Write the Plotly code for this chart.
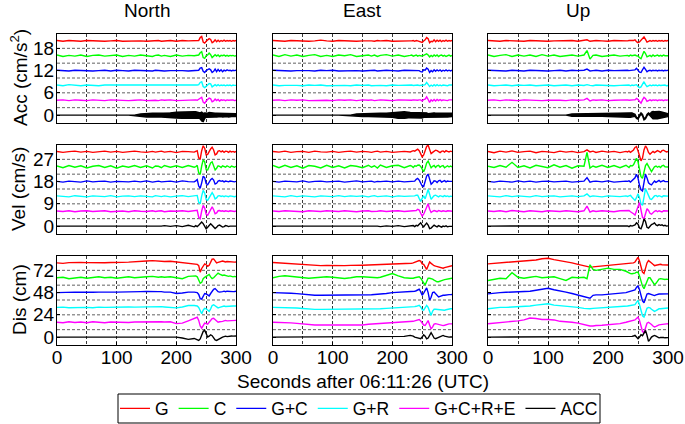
import plotly.graph_objects as go

# ---------------- time base (seconds after 06:11:26 UTC) ----------------
T = [0, 10, 20, 30, 40, 50, 60, 70, 80, 90, 100, 110, 120, 130, 140, 150, 160, 165, 170, 175,
     180, 190, 200, 210, 220, 230,
     232.5, 235, 237.5, 240, 242.5, 245, 247.5, 250, 252.5, 255, 257.5, 260, 262.5, 265,
     267.5, 270, 272.5, 275, 277.5, 280, 282.5, 285, 287.5, 290, 292.5, 295, 297.5, 300]

SERIES = ["G", "C", "G+C", "G+R", "G+C+R+E", "ACC"]
COMPONENTS = ["North", "East", "Up"]
QUANTITIES = ["Acc (cm/s<sup>2</sup>)", "Vel (cm/s)", "Dis (cm)"]
Y_TICKS = [[0, 6, 12, 18], [0, 9, 18, 27], [0, 24, 48, 72]]
X_TICKS = [0, 100, 200, 300]

# ---------------- acceleration (cm/s^2) ----------------
N_ACC_G = [0.1,-0.1,0.1,0,-0.1,0.1,0,0.1,-0.1,0,0.1,-0.1,0, 0.1,0,-0.1,0.1,0,0.1,-0.1,0,0.1,-0.1,0.1,0,0.1,
           0,0.2,0.1,0.9,1.2,-0.3,-0.6,-0.1,0.2,0.6,0.4,-0.5,-0.2,0.3, -0.2,0.2,-0.2,0.1,-0.1,0.2,-0.1,0.1,0,0.1,-0.1,0.1,0,0.1]
N_ACC_C = [0.2,-0.2,0.1,-0.1,0.2,-0.2,0.1,0.2,-0.1,0,0.2,-0.2,0.1, -0.1,0.2,0,-0.2,0.1,0.2,-0.1,0.1,-0.2,0.2,-0.1,0.1,0,
           0.1,0,0.2,0.8,1.1,-0.5,-0.7,0,0.2,0.7,0.3,-0.5,-0.1,0.3, -0.1,0.2,-0.2,0.1,0,0.2,-0.1,0.1,-0.1,0.1,0,0.1,-0.1,0]
N_ACC_GC = [0.1,0,-0.1,0.1,0,0.1,-0.1,0,0.1,-0.1,0.1,0,-0.1, 0.1,0,0.1,-0.1,0.1,0,0.1,-0.1,0,0.1,0,-0.1,0.1,
            0,0.2,0.1,0.7,0.8,-0.2,-0.5,0,0.3,0.5,0.2,-0.5,-0.2,0.4, -0.3,0.3,-0.2,0.2,-0.3,0.1,-0.1,0.2,0,0.1,-0.1,0.1,0,0.1]
N_ACC_GR = [0.1,-0.1,0.2,0,-0.1,0.1,0,-0.1,0.1,0.1,-0.1,0,0.1, -0.1,0.1,0,0.1,-0.1,0.1,0,-0.1,0.1,0,0.1,-0.1,0,
            0.1,0.1,0.2,0.8,1.0,-0.3,-0.6,-0.1,0.1,0.5,0.4,-0.4,-0.2,0.2, -0.1,0.2,-0.1,0.1,0,0.1,-0.1,0.1,0,0.1,-0.1,0.1,0,0]
N_ACC_GCRE = [0,0.1,-0.1,0.1,0,-0.1,0.1,0,-0.1,0.1,0,0.1,-0.1, 0,0.1,-0.1,0.1,0,-0.1,0.1,0,0.1,-0.1,0,0.1,0,
              0.1,0,0.2,0.6,0.8,-0.5,-0.8,-0.2,0.1,0.6,0.4,-0.4,-0.2,0.3, -0.1,0.2,-0.2,0.1,0,0.1,-0.1,0.1,0,0.1,0,0.1,-0.1,0]
# ACC acceleration: dense oscillation, given as upper / lower envelope
N_ACC_ACC_HI = [0,0,0,0,0,0,0,0,0,0,0,0,0, 0,0.3,0.5,0.5,0.5,0.5,0.5,0.6,0.6,0.8,0.9,1.0,0.9,
                0.9,0.8,0.7,0.6,0.8,0.4,0.6,0.5,0.5,0.7,0.6,0.5,0.5,0.5, 0.5,0.5,0.4,0.5,0.5,0.5,0.4,0.5,0.5,0.4,0.5,0.4,0.4,0.4]
N_ACC_ACC_LO = [0,0,0,0,0,0,0,0,0,0,0,0,0, 0,-0.3,-0.5,-0.5,-0.6,-0.5,-0.5,-0.6,-0.6,-0.8,-0.9,-1.1,-0.9,
                -1.0,-0.9,-0.9,-1.0,-1.6,-1.8,-0.9,-0.6,-0.5,-0.5,-0.6,-0.6,-0.5,-0.5, -0.5,-0.5,-0.5,-0.4,-0.5,-0.5,-0.5,-0.4,-0.5,-0.5,-0.4,-0.4,-0.5,-0.4]

E_ACC_G = [0.1,0,-0.1,0.1,0,0.1,-0.1,0,0.2,0,-0.1,0.1,0, 0.1,-0.1,0,0.1,0,-0.1,0.1,0,0.1,-0.1,0,0.1,0,
           0,0.1,-0.1,0.1,0,-0.1,-0.3,-0.4,0,0.3,0.9,0.6,-0.5,-0.1, -0.2,0.3,-0.2,0.2,-0.1,0.2,-0.2,0.1,-0.1,0.2,-0.1,0.1,0,0.1]
E_ACC_C = [0.2,-0.2,0.3,-0.1,0.2,-0.2,0.1,0.3,-0.2,0.1,-0.2,0.2,0, 0.3,-0.2,0.1,0.2,-0.1,0.2,-0.2,0.1,0.3,-0.1,0.2,-0.2,0.1,
           0.2,-0.1,0.1,0.2,-0.1,0.1,0,-0.1,0.1,0.2,0.5,0.2,-0.3,0.1, -0.2,0.2,-0.1,0.2,-0.2,0.1,0.2,-0.1,0.1,-0.2,0.1,0.2,-0.1,0.1]
E_ACC_GC = [0.1,0,0.1,-0.1,0,0.1,0,-0.1,0.1,0,0.1,-0.1,0, 0.1,0,-0.1,0.1,0,0.1,-0.1,0,0.1,0,-0.1,0.1,0,
            0,0.1,0,0.1,-0.1,0,-0.3,-0.4,0.2,0.1,0.7,0.4,-0.5,0, -0.3,0.2,-0.2,0.2,-0.1,0.2,-0.2,0.1,-0.1,0.2,-0.1,0.1,-0.1,0.1]
E_ACC_GR = [0.1,-0.1,0,0.1,0,-0.1,0.1,0,0.1,-0.1,0,0.1,0, -0.1,0.1,0,0.1,-0.1,0,0.1,0,-0.1,0.1,0,0.1,0,
            0.1,0,0.1,0,0.1,0,0,-0.1,0.1,0.2,0.8,0.3,-0.3,0.1, -0.2,0.2,-0.1,0.2,-0.1,0.1,-0.1,0.1,0,0.1,-0.1,0.1,0,0.1]
E_ACC_GCRE = [0,0.1,-0.1,0.1,0,0.1,-0.1,0,0.1,0,-0.1,0.1,0, 0.1,-0.1,0.1,0,0.1,-0.1,0,0.1,0,-0.1,0.1,0,0.1,
              0,0.1,0,0.1,0,0.1,0.1,-0.2,0.2,0.3,0.9,0.2,-0.6,0.1, -0.2,0.2,-0.2,0.2,-0.1,0.2,-0.1,0.1,0,0.1,-0.1,0.1,0,0.1]
E_ACC_ACC_HI = [0,0,0,0,0,0,0,0,0,0,0,0,0, 0,0.3,0.4,0.4,0.45,0.45,0.5,0.5,0.5,0.6,0.9,0.9,0.7,
                0.7,0.6,0.6,0.6,0.6,0.6,0.5,0.5,0.6,0.7,0.6,0.4,0.5,0.6, 0.5,0.6,0.5,0.5,0.6,0.5,0.5,0.5,0.5,0.5,0.5,0.5,0.4,0.5]
E_ACC_ACC_LO = [0,0,0,0,0,0,0,0,0,0,0,0,0, 0,-0.3,-0.4,-0.4,-0.45,-0.45,-0.5,-0.5,-0.5,-0.6,-0.9,-0.9,-0.7,
                -0.7,-0.6,-0.6,-0.6,-0.6,-0.6,-0.8,-0.8,-0.6,-0.5,-0.6,-0.7,-0.6,-0.5, -0.5,-0.6,-0.5,-0.5,-0.6,-0.5,-0.5,-0.5,-0.5,-0.5,-0.5,-0.4,-0.5,-0.4]

U_ACC_G = [0.1,0,-0.1,0.1,0,0.1,-0.1,0.1,0,0.1,-0.1,0,0.1, 0,0.1,-0.1,0.1,0.3,-0.1,0,0.1,0,-0.1,0.1,0,0.1,
           0,0.1,0,0.1,0.1,0.3,-0.2,-0.5,-0.3,0.2,0.8,1.1,0.4,-0.3, -0.1,0.1,-0.1,0.1,0,0.1,-0.1,0.1,0,0.1,-0.1,0.1,0,0.1]
U_ACC_C = [0.2,-0.2,0.1,0.3,-0.2,0.2,-0.1,0.2,-0.2,0.3,-0.1,0.2,-0.2, 0.1,0.2,-0.1,0.2,1.4,-0.9,0.1,0.2,-0.2,0.1,0.2,-0.1,0.2,
           0.1,-0.1,0.2,0,0.1,0.2,0,-0.1,-0.5,-0.8,0.2,1.2,0.6,-0.3, -0.1,0.1,-0.2,0.2,-0.1,0.1,0.2,-0.1,0.1,-0.1,0.2,0,0.1,0]
U_ACC_GC = [0.1,0,0.1,-0.1,0.1,0,-0.1,0.1,0,0.1,-0.1,0,0.1, -0.1,0.1,0,0.1,0.4,-0.1,0,0.1,-0.1,0.1,0,0.1,0,
            0.1,0,0.1,0,0.1,0.2,0.6,0.1,-0.4,-0.5,0.3,0.9,0.3,-0.3, 0,0.1,-0.1,0.1,0,0.1,-0.1,0.1,0,0.1,-0.1,0.1,0,0.1]
U_ACC_GR = [0.1,-0.1,0,0.1,-0.1,0.1,0,0.1,-0.1,0,0.1,-0.1,0, 0.1,-0.1,0.1,0,0.2,0,-0.1,0.1,0,0.1,-0.1,0,0.1,
            0,0.1,-0.1,0.1,0,0.1,0.2,-0.3,-0.6,-0.4,0.4,1.0,0.2,-0.3, -0.1,0.1,-0.1,0.1,0,0.1,-0.1,0.1,0,0.1,0,0.1,-0.1,0]
U_ACC_GCRE = [0,0.1,-0.1,0.1,0,-0.1,0.1,0,0.1,-0.1,0,0.1,0, -0.1,0.1,0,0.1,0.5,-0.2,0.1,0,0.1,-0.1,0,0.1,0,
              0.1,0,0.1,0,0.1,0.1,0.5,0.2,-0.5,-0.8,0.1,0.8,0.4,-0.3, -0.1,0.1,-0.1,0.1,0,0.1,-0.1,0.1,0,0.1,-0.1,0.1,0,0.1]
U_ACC_ACC_HI = [0,0,0,0,0,0,0,0,0,0,0,0,0, 0,0.3,0.35,0.35,0.35,0.35,0.35,0.35,0.35,0.4,0.5,0.6,0.6,
                0.6,0.6,0.6,0.6,0.4,0.2,-0.6,-0.8,0,0.6,0.2,-0.9,-0.7,0.2, 0.6,0.3,0.8,1.0,0.9,1.0,1.0,1.0,0.9,0.8,0.8,0.6,0.5,0.4]
U_ACC_ACC_LO = [0,0,0,0,0,0,0,0,0,0,0,0,0, 0,-0.3,-0.35,-0.35,-0.35,-0.35,-0.35,-0.35,-0.35,-0.4,-0.5,-0.6,-0.6,
                -0.6,-0.6,-0.6,-0.6,-0.4,-0.3,-0.9,-1.1,-0.3,0.3,-0.2,-1.3,-1.0,-0.2, 0.3,0,-0.6,-1.0,-0.9,-1.0,-1.0,-1.0,-0.9,-0.8,-0.8,-0.6,-0.5,-0.4]

# ---------------- velocity (cm/s) ----------------
N_VEL_G = [0.2,-0.2,0.1,0.3,-0.1,0.2,-0.2,0,0.3,-0.1,0.2,-0.2,0.1, 0.3,0,-0.2,0.2,-0.1,0.1,0.3,-0.1,0.2,-0.3,0.2,0.1,-0.1,
           0.2,0.5,-2.5,-2.8,0.5,2.5,1.5,-1.2,-1.0,0.2,1.2,1.9,0.8,-1.2, -0.8,0.3,0.5,0,0.4,-0.2,0.3,0.2,-0.2,0.3,0,0.2,-0.1,0.2]
N_VEL_C = [0.3,-0.4,0.5,-0.2,0.4,-0.5,0.2,0.5,-0.3,0.4,-0.6,0.3,-0.2, 0.5,-0.3,0.4,-0.5,0.3,0.2,-0.4,0.5,-0.2,0.4,-0.3,0.5,-0.2,
           0,0.6,-2.5,-3.1,0.3,2.8,2.0,-1.2,-1.3,0,1.5,2.0,0.5,-1.3, -0.6,0.4,0.2,-0.3,0.4,0.1,-0.2,0.4,0,-0.3,0.3,0.1,-0.2,0.2]
N_VEL_GC = [0.1,-0.2,0.2,0,-0.2,0.3,-0.1,0.1,0.2,-0.2,0.1,0,-0.1, 0.2,-0.1,0.3,-0.2,0,0.2,-0.1,0.1,0.2,-0.2,0.3,0,-0.1,
            0.3,0.8,-1.8,-2.7,-0.5,2.2,1.6,-0.8,-1.3,-0.2,0.8,1.3,0.6,-1.0, -0.7,0.2,0.4,0.1,0.3,-0.1,0.2,0.1,-0.1,0.2,0,0.1,-0.1,0.1]
N_VEL_GR = [0.2,0,-0.2,0.3,0.1,-0.2,0.2,0,-0.1,0.3,-0.2,0.1,0.2, -0.1,0.2,0,-0.2,0.3,0.1,-0.1,0.2,-0.2,0.1,0.3,-0.1,0.2,
            0.2,0.4,-2.4,-3.0,0.2,2.4,1.4,-1.3,-1.6,-0.4,0.9,1.5,0.5,-1.0, -0.6,0.2,0.3,0,0.2,-0.1,0.2,0.1,-0.1,0.2,0,0.1,-0.1,0.1]
N_VEL_GCRE = [0.1,-0.1,0.2,-0.2,0.1,0.2,-0.1,0,0.2,-0.2,0.1,0.1,-0.2, 0.2,0,-0.1,0.2,-0.1,0.1,0.2,-0.2,0.1,0,0.2,-0.1,0.1,
              0.2,0.4,-2.5,-3.0,0.1,2.4,1.3,-1.2,-1.6,-0.3,1.0,1.8,0.6,-1.0, -0.7,0.2,0.3,0,0.2,-0.1,0.2,0.1,-0.1,0.2,0,0.1,-0.1,0.1]
N_VEL_ACC = [0,0,0,0,0,0,0,0,0,0,0,0,0, 0,0,0,0.1,-0.2,0.1,0,0.2,-0.1,0.2,-0.2,0.3,-0.3,
             0.2,-0.2,0.3,0.8,1.6,1.0,-0.4,-1.1,-0.5,0.4,0.9,0.3,-0.6,-1.0, -0.5,0.2,0.4,0,-0.4,-0.2,0.2,0.1,-0.2,0,0.1,-0.1,0,0]

E_VEL_G = [0.2,-0.1,0.3,-0.2,0.1,0.2,-0.2,0.3,0,-0.1,0.2,-0.2,0.1, 0.3,-0.1,0.2,0,-0.2,0.1,0.3,-0.1,0.2,-0.2,0.1,0.2,0,
           0.2,0.5,0.3,0.8,1.1,0.5,-1.0,-2.0,-1.2,0.5,2.2,2.7,0.8,-0.7, -0.2,0.3,0.7,0.5,0,-0.3,0.2,0.4,-0.1,0.5,0.2,0,0.3,0.1]
E_VEL_C = [0.5,-0.4,0.6,-0.3,0.4,-0.6,0.5,0.2,-0.5,0.6,-0.3,0.4,-0.5, 0.5,0.2,-0.4,0.6,-0.2,0.4,-0.5,0.7,-0.3,0.4,0.6,-0.4,0.5,
           0.3,-0.3,0.4,0.2,0.6,0.7,0.1,-1.2,-2.0,-0.6,1.5,2.3,0.8,-0.4, 0.2,0.5,-0.3,0.4,0.6,-0.2,0.3,0.5,-0.4,0.2,0.4,-0.1,0.3,0]
E_VEL_GC = [0.1,-0.2,0.2,0,-0.1,0.3,-0.2,0.1,0.2,-0.1,0,0.2,-0.2, 0.1,0.3,-0.1,0.1,0.2,-0.2,0.1,0,0.2,-0.1,0.2,-0.1,0.1,
            0.1,0.4,0.2,0.9,1.3,0.6,-0.8,-1.8,-2.0,-0.2,2.2,3.0,0.7,-1.1, -0.5,0.3,0.2,-0.4,0.3,0.5,-0.2,0.1,0.4,-0.1,0.2,0.1,0,0.1]
E_VEL_GR = [0.2,0,-0.2,0.3,-0.1,0.2,0.1,-0.2,0.2,0,-0.1,0.3,-0.1, 0.2,0,0.2,-0.2,0.1,0.3,-0.1,0.1,0.2,-0.2,0.2,0,0.1,
            0.1,0.3,0.2,0.5,0.5,-0.8,-2.0,-0.8,0.2,-1.0,1.2,2.8,0.9,-1.2, -0.4,0.3,0.5,0.1,-0.2,0.3,0.1,-0.1,0.3,0,0.2,-0.1,0.1,0]
E_VEL_GCRE = [0.1,-0.1,0.2,0,0.1,-0.2,0.2,0,-0.1,0.2,0.1,-0.1,0.2, 0,-0.2,0.1,0.2,-0.1,0.1,0,0.2,-0.1,0.1,0.2,-0.1,0.1,
              0.1,0.2,0.4,0.3,0.8,0.5,-0.8,-1.9,-1.2,0.3,2.0,3.0,0.8,-0.5, 0,0.3,0.1,-0.2,0.3,0.2,-0.1,0.2,0.1,-0.1,0.2,0,0.1,0]
E_VEL_ACC = [0,0,0,0,0,0,0,0,0,0,0,0,0, 0,0,0,0.1,-0.1,0.2,0,-0.2,0.1,-0.1,0.2,-0.2,0.1,
             0,0.2,-0.2,0.3,0.1,0.8,1.3,0.4,-0.3,0.5,1.2,0.4,-1.0,-0.8, 0,0.4,0,-0.3,0.2,-0.1,-0.4,0,-0.2,0.1,-0.3,-0.1,-0.2,-0.1]

U_VEL_G = [0.2,-0.3,0.3,-0.1,0.4,-0.2,0.1,0.3,-0.3,0.2,0,-0.3,0.3, -0.1,0.2,-0.3,0.1,0.8,0,0.3,-0.2,0.3,-0.1,0.2,-0.3,0.2,
           0,0.3,-0.2,0.2,0.8,1.8,2.2,0.5,-1.8,-3.6,-2.5,0.8,2.4,1.5, -0.2,-0.9,-0.3,0.2,-0.3,0.3,0.5,0.2,-0.2,0.5,0.7,0.3,0,0.2]
U_VEL_C = [0.2,-0.3,0.5,-0.2,1.8,-0.3,0.4,-0.5,0.6,0.2,-0.4,0.8,-0.2, 0.5,-0.6,0.4,0.2,5.8,-0.5,0.3,-0.2,0.6,-0.3,0.5,-0.4,0.6,
           0.2,-0.3,0.5,0.3,0.8,2.0,3.4,2.0,-1.5,-4.0,-4.7,-2.0,0.5,1.3, 0.2,-1.5,-2.0,-1.0,0,0.3,-0.2,0.2,-0.3,0.4,0.6,0,-0.2,-0.1]
U_VEL_GC = [0.1,-0.2,0.2,0,-0.2,0.3,-0.1,0.2,-0.2,0.1,0.2,-0.1,0, 0.2,-0.2,0.1,0.2,1.6,-0.2,0.1,0.2,-0.1,0.3,-0.2,0.1,0.2,
            0.1,0.3,-0.2,0.4,0.8,1.5,3.0,1.5,-1.5,-3.3,-3.8,-0.5,3.0,1.5, -0.5,-1.0,-1.3,-0.5,0.2,-0.3,0.3,0.5,-0.1,0.2,0.4,0,0.1,0]
U_VEL_GR = [0.2,0,-0.2,0.3,-0.1,0.2,0,-0.2,0.3,-0.1,0.1,0.2,-0.2, 0.1,0.2,-0.1,0.2,1.0,-0.1,0.2,0,-0.2,0.2,0.1,-0.1,0.2,
            0,0.2,0.4,-0.3,-0.8,-1.6,-0.5,1.1,-0.5,-3.0,-3.6,-0.5,3.1,1.8, 0,-1.0,-1.2,-0.4,0.2,0.4,-0.1,0.3,0.1,-0.2,0.3,0.2,0,0.1]
U_VEL_GCRE = [0.1,-0.1,0.2,-0.2,0.3,0,-0.2,0.2,0.1,-0.2,0.2,0,-0.1, 0.2,0,-0.2,0.2,2.1,-0.3,0.2,-0.1,0.2,0,-0.2,0.2,0.1,
              0.1,0.3,-0.2,-0.5,-1.0,-1.5,0.2,2.5,3.5,0.5,-2.5,-3.0,-0.5,1.0, 0.3,-0.8,-1.2,-0.5,0,0.3,-0.2,0.2,0.1,-0.3,0.2,0.1,0,0.1]
U_VEL_ACC = [0,0,0,0,0,0,0,0,0,0,0,0,0, 0,0,0.1,-0.1,0.1,0,-0.1,0.1,0,0.2,-0.1,0.2,0,
             0.1,-0.2,0.2,0,0.3,0.5,1.3,0.8,-0.8,-1.1,0.5,2.9,1.8,-0.5, -0.8,0,0.6,0.9,1.3,0.5,0.2,0.6,0.3,0.5,0.1,0.3,0,0.1]

# ---------------- displacement (cm) ----------------
N_DIS_G = [0,-0.5,0.3,0,0.5,0.3,0,0.4,0.2,0.5,0.3,0.6,0.8, 1.0,1.5,2.0,2.5,2.2,1.8,2.0,1.5,1.8,1.0,0,-0.5,-0.8,
           -1.0,-1.5,-3.0,-10.0,-6.0,-2.9,-1.0,-2.0,-3.6,-2.5,1.0,4.0,4.3,2.0, 0,0.5,1.0,1.8,2.0,1.5,1.0,1.5,1.2,1.0,0.8,1.0,0.8,1.0]
N_DIS_C = [0,0.5,-1.0,-0.5,0.5,-0.5,0.5,1.0,0,0.5,-0.5,0.5,1.0, 0,0.8,1.0,1.5,1.0,0.5,1.0,0.5,1.0,0,-1.0,1.5,2.5,
           2.0,1.0,-2.0,-6.0,-5.0,-1.0,0.5,1.5,3.0,3.6,1.0,-1.0,0,2.0, 4.0,5.0,4.0,3.0,2.5,3.0,2.5,2.0,1.5,2.0,1.5,1.0,1.5,1.0]
N_DIS_GC = [0,0.3,0,0.5,0.3,0,0.3,0.5,0.2,0.5,0.5,0.8,1.0, 0.8,1.0,1.2,1.5,1.2,1.0,1.0,0.5,0.5,-1.0,-0.5,0.5,0.5,
            0.5,0,-2.0,-6.5,-7.0,-3.0,-1.0,-1.5,-3.0,-3.6,-1.0,2.0,3.5,4.3, 2.5,1.0,0.5,0.5,1.0,1.5,1.0,1.5,1.2,1.0,1.2,1.0,1.2,1.5]
N_DIS_GR = [0,0.3,-0.3,0,0.3,0,-0.3,0.3,0,0.3,0,0.3,0.5, 0.3,0.5,0.5,0.8,0.5,0.5,0.8,0.5,0.3,-0.5,0.5,2.0,2.0,
            2.0,1.5,0,-4.5,-6.8,-3.0,-1.0,-1.5,-3.5,-4.3,-1.5,2.0,2.9,1.5, 0,-0.5,0,0.5,1.0,1.5,1.0,1.2,1.5,1.5,1.2,1.5,1.5,1.5]
N_DIS_GCRE = [0,-0.5,0.5,-0.3,0.3,-0.5,0.5,0,-0.5,0.3,0,0.5,-0.3, 0.3,0.5,0.8,0.5,0.3,0.8,0.5,0.3,0.5,-1.5,-1.0,1.5,4.0,
              5.0,5.4,2.0,-4.0,-6.4,-4.0,-1.0,-1.5,-2.0,0,2.5,4.0,4.3,2.5, 1.0,0,0.5,0.5,1.0,1.5,2.0,1.5,1.5,2.0,1.8,2.0,1.8,2.0]
N_DIS_ACC = [0,0,0,0,0,0,0,0,0,0,0,0,0, 0,0,0,0,0,0,0,0,0,0,-1.0,-2.5,-1.5,
             -2.0,-3.0,-3.6,-2.0,2.0,6.0,7.5,3.5,0,1.0,2.5,1.5,-1.0,-3.0, -3.6,-2.5,-1.5,-1.0,0,0.5,1.0,0.5,1.0,1.0,1.2,1.0,1.0,1.2]

E_DIS_G = [0.5,0,-0.3,-0.8,-1.0,-1.8,-2.5,-2.9,-2.9,-2.7,-2.9,-3.2,-2.9, -2.7,-2.9,-2.5,-2.3,-2.2,-2.3,-2.0,-1.8,-1.5,-1.2,-1.0,-0.8,-0.5,
           -0.3,0,0.5,1.0,2.0,2.5,2.0,-1.0,-1.5,-4.0,-7.0,-3.0,1.0,-0.5, -2.0,-3.0,-3.5,-4.0,-4.5,-5.0,-5.5,-5.7,-5.0,-4.5,-4.0,-3.5,-3.2,-3.0]
E_DIS_C = [0,1.5,2.1,1.5,1.0,0,-0.5,0,0.8,1.0,0.5,-0.5,-0.8, 0,1.0,1.0,0.5,0,0.3,0,0.5,2.5,4.5,2.0,0,-0.5,
           -0.8,-0.5,0,0.5,1.0,1.0,-0.5,-3.0,-6.5,-7.9,-4.0,-0.5,-0.5,-0.8, -1.5,-2.5,-3.5,-4.3,-4.3,-3.5,-2.5,-2.5,-2.0,-1.5,-1.0,-1.0,-0.8,-0.5]
E_DIS_GC = [0,0,-0.5,-0.8,-1.1,-1.8,-2.5,-2.9,-2.9,-2.9,-3.0,-3.0,-2.9, -2.9,-2.7,-2.9,-2.5,-2.3,-2.0,-1.8,-1.8,-1.0,0,0.3,0.8,1.2,
            1.5,1.5,1.5,2.0,3.0,3.6,1.0,-2.9,-0.5,3.0,5.0,0,-8.2,-5.0, 0,0.5,-1.0,-3.0,-4.7,-4.0,-3.0,-2.9,-2.9,-2.5,-2.3,-2.2,-2.2,-2.0]
E_DIS_GR = [0,0,-0.5,-0.5,-0.7,-1.2,-1.8,-2.1,-2.1,-2.1,-2.2,-2.1,-2.1, -2.0,-2.1,-2.1,-1.8,-1.6,-1.5,-1.4,-1.4,-1.0,-0.7,-0.5,0,0.3,
            0.5,0.5,0.8,1.2,1.8,2.2,0.5,-2.5,-3.0,-0.5,2.2,0,-5.0,-8.6, -4.0,-2.0,-2.0,-2.2,-2.5,-3.0,-3.2,-3.2,-3.0,-2.5,-2.0,-1.8,-1.5,-1.4]
E_DIS_GCRE = [0,0,-0.5,-0.7,-1.2,-2.0,-2.9,-2.9,-2.9,-3.0,-2.9,-3.0,-2.9, -2.8,-2.9,-2.9,-2.2,-2.0,-1.8,-1.8,-1.8,-1.2,-0.7,-0.5,0,0.5,
              0.8,1.0,1.5,2.0,2.5,2.9,1.5,-1.0,-3.0,-3.5,0,1.8,-3.0,-7.2, -5.0,-2.0,-1.5,-2.0,-2.5,-3.0,-3.5,-3.6,-3.2,-2.5,-2.0,-1.8,-1.8,-1.8]
E_DIS_ACC = [0,0,0,0,0,0,0,0,0,0,0,0,0, 0,0,0,0.2,0,0.2,0,0.3,0,0.5,0.3,0.8,1.8,
             1.5,1.0,0,-0.5,-1.0,-1.5,-1.8,0,2.5,1.0,-1.8,-1.0,2.0,4.7, 2.0,-1.0,-1.8,-1.0,0,1.0,1.5,1.8,1.0,0.5,0,0,0.2,0]

U_DIS_G = [-1.0,-0.5,0,0.5,1.0,1.4,2.0,2.5,3.2,4.5,5.0,3.5,2.5, 1.2,0,-1.5,-3.0,-3.8,-4.5,-4.3,-4.0,-3.2,-2.5,-2.0,-1.5,-1.0,
           -1.0,-0.8,-0.5,-0.3,0,1.0,3.5,6.0,2.0,-5.0,-10.0,-11.5,-6.0,0, 2.5,1.5,0,-1.5,-2.9,-2.5,-2.0,-1.5,-1.5,-2.0,-2.2,-2.0,-2.2,-2.2]
U_DIS_C = [-2.9,-1.5,-0.5,-1.0,5.5,0.5,-0.5,0.5,1.5,0,0.5,1.0,-1.0, -2.9,0.5,0,0.5,-1.0,14.0,9.0,8.0,9.5,10.4,9.0,9.0,7.0,
           6.0,5.0,4.5,4.3,4.5,5.0,6.0,6.0,2.0,-4.0,-9.0,-11.8,-8.0,-3.0, 0,0,-3.0,-6.0,-7.5,-6.0,-3.0,-1.5,-1.0,-1.5,-1.8,-1.8,-1.5,-1.8]
U_DIS_GC = [-1.4,-0.5,0,0.3,0.5,0.8,1.0,1.5,2.5,4.0,4.7,3.0,2.0, 0.5,-1.0,-2.5,-4.0,-5.0,-6.0,-3.0,-2.5,-2.5,-2.0,-1.5,-0.8,0,
            0.5,1.0,1.5,2.0,2.5,3.0,5.5,7.5,3.0,-4.0,-9.0,-11.0,-6.0,-1.5, -1.0,-1.5,-2.5,-3.0,-3.2,-2.5,-1.8,-1.5,-1.5,-1.5,-1.5,-1.4,-1.4,-1.4]
U_DIS_GR = [-1.4,-0.5,0,0,0.3,0.5,1.0,1.5,2.5,3.5,3.9,2.5,2.0, 1.0,0.5,0,-1.0,-1.4,-1.5,-1.0,-0.8,-0.7,-0.5,0,0.5,1.0,
            1.5,1.8,2.0,2.0,2.5,3.0,5.5,7.5,3.0,-4.0,-9.0,-10.4,-6.0,-1.0, 0,-0.5,-2.0,-3.5,-4.3,-3.5,-2.5,-1.5,-1.5,-1.4,-1.2,-1.0,-0.8,-0.7]
U_DIS_GCRE = [-1.6,-1.0,0,0.5,0.5,1.5,2.5,4.5,4.0,3.0,3.0,2.5,1.0, 0.8,0,-1.0,-2.5,-3.5,-4.1,-4.0,-3.5,-3.3,-2.8,-2.0,-1.5,0,
              0.5,1.0,1.2,1.5,2.0,2.5,4.0,5.5,2.0,-5.0,-10.0,-11.3,-6.0,-1.0, 0,-1.0,-2.5,-4.0,-5.2,-4.5,-3.5,-2.9,-2.5,-2.5,-2.3,-2.0,-1.8,-1.6]
U_DIS_ACC = [0,0,0,0,0,0,0,0,0,0,0,0,0, 0,0,0,0,0,0.3,0,0.2,0,0.3,0,0.3,0,
             0.3,0.5,0.3,0.8,1.2,1.8,0,-1.8,0,2.5,1.5,4.0,7.2,2.0, -4.7,-2.5,0,1.0,1.8,1.0,0,-0.8,-0.5,-0.2,-0.5,-0.8,-0.5,-0.6]

# ---------------- assembly ----------------
GNSS = [  # [row][col] -> list of 5 GNSS series (G, C, G+C, G+R, G+C+R+E)
    [[N_ACC_G, N_ACC_C, N_ACC_GC, N_ACC_GR, N_ACC_GCRE],
     [E_ACC_G, E_ACC_C, E_ACC_GC, E_ACC_GR, E_ACC_GCRE],
     [U_ACC_G, U_ACC_C, U_ACC_GC, U_ACC_GR, U_ACC_GCRE]],
    [[N_VEL_G, N_VEL_C, N_VEL_GC, N_VEL_GR, N_VEL_GCRE],
     [E_VEL_G, E_VEL_C, E_VEL_GC, E_VEL_GR, E_VEL_GCRE],
     [U_VEL_G, U_VEL_C, U_VEL_GC, U_VEL_GR, U_VEL_GCRE]],
    [[N_DIS_G, N_DIS_C, N_DIS_GC, N_DIS_GR, N_DIS_GCRE],
     [E_DIS_G, E_DIS_C, E_DIS_GC, E_DIS_GR, E_DIS_GCRE],
     [U_DIS_G, U_DIS_C, U_DIS_GC, U_DIS_GR, U_DIS_GCRE]],
]
ACC_ENV = [(N_ACC_ACC_HI, N_ACC_ACC_LO), (E_ACC_ACC_HI, E_ACC_ACC_LO), (U_ACC_ACC_HI, U_ACC_ACC_LO)]
ACC_LINES = [[N_VEL_ACC, E_VEL_ACC, U_VEL_ACC], [N_DIS_ACC, E_DIS_ACC, U_DIS_ACC]]

for row in GNSS:
    for panel in row:
        for s in panel:
            assert len(s) == len(T), len(s)
for hi, lo in ACC_ENV:
    assert len(hi) == len(T) and len(lo) == len(T)
for row in ACC_LINES:
    for s in row:
        assert len(s) == len(T)

COLORS = ["#ff0000", "#00ff00", "#0000ff", "#00ffff", "#ff00ff", "#000000"]
STEPS = [4, 6, 16]           # vertical shift between stacked traces per row
W, H = 685, 424
COL_PX = [(57, 236), (273, 452), (488, 668)]
ROW_PX = [(33.5, 122.5), (144.5, 233.5), (255.5, 344.5)]
FONT = "Liberation Sans, Arial, Helvetica, sans-serif"
GRID = dict(color="#3a3a3a", width=0.8, dash="3px,2px")

def px_x(p):
    return p / W

def px_y(p):
    return 1 - p / H

fig = go.Figure()
shapes = []
layout_axes = {}

for r in range(3):
    step = STEPS[r]
    for c in range(3):
        k = r * 3 + c + 1
        xa = "x" if k == 1 else f"x{k}"
        ya = "y" if k == 1 else f"y{k}"
        legend_panel = (r == 1 and c == 0)
        for i, s in enumerate(GNSS[r][c]):
            off = step * (5 - i)
            fig.add_trace(go.Scatter(
                x=T, y=[v + off for v in s], mode="lines",
                line=dict(color=COLORS[i], width=1.4),
                name=SERIES[i], legendgroup=SERIES[i], showlegend=legend_panel,
                xaxis=xa, yaxis=ya, hoverinfo="skip"))
        if r == 0:
            hi, lo = ACC_ENV[c]
            fig.add_trace(go.Scatter(
                x=T + T[::-1], y=hi + lo[::-1], mode="lines", fill="toself",
                fillcolor="#000000", line=dict(color="#000000", width=1.4),
                name="ACC", legendgroup="ACC", showlegend=False,
                xaxis=xa, yaxis=ya, hoverinfo="skip"))
        else:
            fig.add_trace(go.Scatter(
                x=T, y=ACC_LINES[r - 1][c], mode="lines",
                line=dict(color="#000000", width=1.4),
                name="ACC", legendgroup="ACC", showlegend=legend_panel,
                xaxis=xa, yaxis=ya, hoverinfo="skip"))

        x0, x1 = COL_PX[c]
        y0, y1 = ROW_PX[r]
        key = "" if k == 1 else str(k)
        layout_axes["xaxis" + key] = dict(
            domain=[px_x(x0), px_x(x1)], anchor=ya, range=[0, 300],
            tickvals=X_TICKS,
            showticklabels=(r == 2), ticks="inside", ticklen=3, tickcolor="#000",
            ticklabelstandoff=-4,
            showgrid=True, gridcolor=GRID["color"], gridwidth=GRID["width"], griddash=GRID["dash"],
            minor=dict(tick0=0, dtick=50, showgrid=True, gridcolor=GRID["color"],
                       gridwidth=GRID["width"], griddash=GRID["dash"], ticks=""),
            showline=True, linecolor="#000", linewidth=1, mirror=True, zeroline=False,
            tickfont=dict(family=FONT, size=19, color="#000"))
        layout_axes["yaxis" + key] = dict(
            domain=[px_y(y1), px_y(y0)], anchor=xa,
            range=[-0.5 * step, 5.5 * step], tickvals=Y_TICKS[r],
            showticklabels=(c == 0), ticks="inside", ticklen=3, tickcolor="#000",
            ticklabelstandoff=-2,
            showgrid=False, showline=True, linecolor="#000", linewidth=1, mirror=True,
            zeroline=False, tickfont=dict(family=FONT, size=19, color="#000"))
        for g in range(5):
            yv = (g + 0.5) * step
            shapes.append(dict(type="line", xref=xa, yref=ya, x0=0, x1=300, y0=yv, y1=yv,
                               line=GRID, layer="below"))

# legend frame
shapes.append(dict(type="rect", xref="paper", yref="paper",
                   x0=px_x(118), x1=px_x(600), y0=px_y(423), y1=px_y(394),
                   line=dict(color="#000", width=1), fillcolor="rgba(0,0,0,0)", layer="above"))

annotations = []
for c, name in enumerate(COMPONENTS):
    annotations.append(dict(text=name, xref="paper", yref="paper",
                            x=px_x((COL_PX[c][0] + COL_PX[c][1]) / 2), y=px_y(10),
                            xanchor="center", yanchor="middle", showarrow=False,
                            font=dict(family=FONT, size=19, color="#000")))
for r, q in enumerate(QUANTITIES):
    annotations.append(dict(text=q, xref="paper", yref="paper", textangle=-90,
                            x=px_x(19), y=px_y((ROW_PX[r][0] + ROW_PX[r][1]) / 2),
                            xanchor="center", yanchor="middle", showarrow=False,
                            font=dict(family=FONT, size=19, color="#000")))
annotations.append(dict(text="Seconds after 06:11:26 (UTC)", xref="paper", yref="paper",
                        x=px_x(362.5), y=px_y(381), xanchor="center", yanchor="middle",
                        showarrow=False, font=dict(family=FONT, size=19, color="#000")))

fig.update_layout(
    width=W, height=H, margin=dict(l=0, r=0, t=0, b=0, autoexpand=False),
    paper_bgcolor="white", plot_bgcolor="white",
    font=dict(family=FONT, size=19, color="#000"),
    showlegend=True,
    legend=dict(orientation="h", x=px_x(359), xanchor="center", y=px_y(408.5), yanchor="middle",
                borderwidth=0, bgcolor="rgba(0,0,0,0)",
                font=dict(family=FONT, size=17.5, color="#000"), itemwidth=30,
                tracegroupgap=0),
    shapes=shapes, annotations=annotations,
    **layout_axes)

fig.write_html("out.html", config={"displayModeBar": False},
               post_script="document.body.style.margin='0';")
